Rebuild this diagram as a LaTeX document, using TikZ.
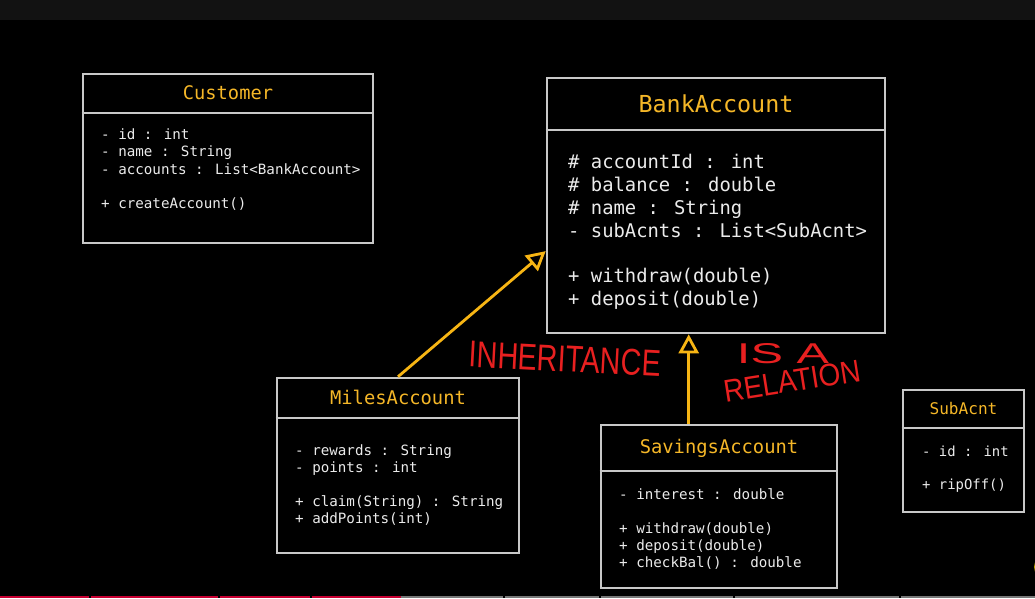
\documentclass[tikz,border=0pt]{standalone}
\usepackage{fontspec}
\usepackage{graphicx}
\setmainfont{Liberation Sans}
\newfontfamily\monof{DejaVu Sans Mono}
\usetikzlibrary{arrows.meta,calc}
\definecolor{bordergray}{RGB}{200,200,200}
\definecolor{titleyel}{RGB}{245,183,40}
\definecolor{arrowyel}{RGB}{247,181,20}
\definecolor{bodytxt}{RGB}{235,235,235}
\definecolor{inkred}{RGB}{232,32,32}
\definecolor{topbar}{RGB}{18,18,18}
\definecolor{progred}{RGB}{200,0,50}
\definecolor{proggray}{RGB}{120,120,120}
\definecolor{dotyel}{RGB}{190,165,0}
\begin{document}
\begin{tikzpicture}[x=1pt,y=-1pt,
 cls/.style={draw=bordergray, line width=2.6pt, inner sep=0pt, outer sep=1.3pt, fill=black},
 divline/.style={draw=bordergray, line width=2.4pt},
 ctitle/.style={text=titleyel, anchor=base, inner sep=0pt},
 cbody/.style={text=bodytxt, anchor=base west, align=left, inner sep=0pt},
 inh/.style={draw=arrowyel, line width=2.8pt, -{Triangle[open,length=19pt,width=20pt,line width=2.8pt]}},
 ink/.style={text=inkred, inner sep=0pt}]
\useasboundingbox (0,0) rectangle (1035,598);
\fill[black] (0,0) rectangle (1035,598);
\fill[topbar] (0,0) rectangle (1035,20);

% progress bar
\fill[progred] (0,596) rectangle (89,598);
\fill[progred] (91,596) rectangle (218,598);
\fill[progred] (220,596) rectangle (310,598);
\fill[progred] (312,596) rectangle (401,598);
\fill[proggray] (401,596) rectangle (503,598);
\fill[proggray] (505,596) rectangle (599,598);
\fill[proggray] (601,596) rectangle (733,598);
\fill[proggray] (735,596) rectangle (899,598);
\fill[proggray] (901,596) rectangle (1035,598);
\fill[dotyel] (1046,567) circle (12);

% Customer
\node[cls, minimum width=290pt, minimum height=169pt] (cust) at (228,158.5) {};
\draw[divline] (cust.west |- 0,113) -- (cust.east |- 0,113);
\node[ctitle, font=\monof\fontsize{18.7}{22}\selectfont] (custT) at (228,99.7) {Customer};
\node[cbody, font=\monof\fontsize{14.2}{17.5}\selectfont] (custB) at (101,208.3)
 {- id : int\\- name : String\\- accounts : List<BankAccount>\\[16.5pt]+ createAccount()};

% BankAccount
\node[cls, minimum width=338pt, minimum height=255pt] (bank) at (716,205.5) {};
\draw[divline] (bank.west |- 0,130) -- (bank.east |- 0,130);
\node[ctitle, font=\monof\fontsize{23.4}{27}\selectfont] (bankT) at (716,112.4) {BankAccount};
\node[cbody, font=\monof\fontsize{18.85}{23}\selectfont] (bankB) at (568,305.7)
 {\# accountId : int\\\# balance : double\\\# name : String\\- subAcnts : List<SubAcnt>\\[22pt]+ withdraw(double)\\+ deposit(double)};

% MilesAccount
\node[cls, minimum width=242pt, minimum height=175pt] (miles) at (398,465.5) {};
\draw[divline] (miles.west |- 0,418) -- (miles.east |- 0,418);
\node[ctitle, font=\monof\fontsize{18.8}{22}\selectfont] (milesT) at (398,404.8) {MilesAccount};
\node[cbody, font=\monof\fontsize{14.2}{17}\selectfont] (milesB) at (295,523.3)
 {- rewards : String\\- points : int\\[17pt]+ claim(String) : String\\+ addPoints(int)};

% SavingsAccount
\node[cls, minimum width=236pt, minimum height=163pt] (sav) at (719,506.5) {};
\draw[divline] (sav.west |- 0,471) -- (sav.east |- 0,471);
\node[ctitle, font=\monof\fontsize{18.8}{22}\selectfont] (savT) at (719,453.8) {SavingsAccount};
\node[cbody, font=\monof\fontsize{14.2}{17}\selectfont] (savB) at (619,567.3)
 {- interest : double\\[17pt]+ withdraw(double)\\+ deposit(double)\\+ checkBal() : double};

% SubAcnt
\node[cls, minimum width=121pt, minimum height=122pt] (sub) at (963.5,451) {};
\draw[divline] (sub.west |- 0,428) -- (sub.east |- 0,428);
\node[ctitle, font=\monof\fontsize{16.1}{19}\selectfont] (subT) at (963.5,414.8) {SubAcnt};
\node[cbody, font=\monof\fontsize{13.9}{16.5}\selectfont] (subB) at (922,489.2)
 {- id : int\\[16.5pt]+ ripOff()};

% inheritance arrows
\draw[inh] (miles.north) -- (bank.195.7);
\coordinate (sa) at ($(sav.north west)!0.373!(sav.north east)$);
\draw[inh] (sa) -- (sa |- bank.south);

% handwritten notes
\node[ink, rotate=-3] (inhT) at (565,359) {\resizebox{192pt}{26pt}{INHERITANCE}};
\node[ink] (isaT) at (783,354) {\resizebox{92pt}{20pt}{IS A}};
\node[ink, rotate=9] (relT) at (792,381) {\resizebox{138pt}{22pt}{RELATION}};
\end{tikzpicture}
\end{document}
